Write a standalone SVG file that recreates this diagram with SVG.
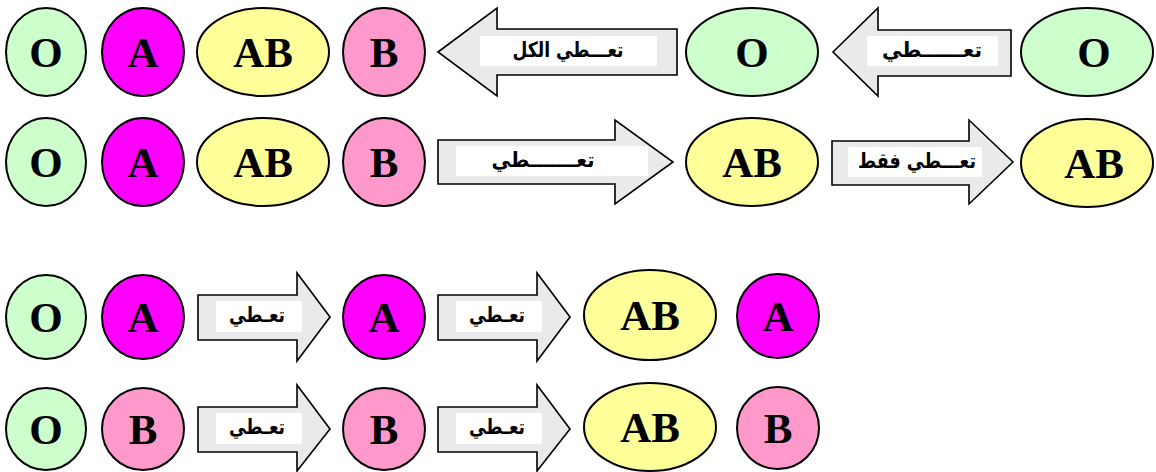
<svg xmlns="http://www.w3.org/2000/svg" width="1156" height="472" viewBox="0 0 1156 472">
<style>
.n{stroke:#000;stroke-width:2}
.O{fill:#CCFFCC}.A{fill:#FF00FF}.AB{fill:#FFFF99}.B{fill:#FF99CC}
.t{font-family:"Liberation Serif","Times New Roman",serif;font-weight:bold;font-size:43px;text-anchor:middle;fill:#000}
.arr{fill:#EAEAEA;stroke:#000;stroke-width:1.6;stroke-linejoin:miter}
.lb{fill:#fff}
.at{font-family:"DejaVu Sans","Noto Sans",sans-serif;font-weight:bold;font-size:21px;text-anchor:middle;fill:#000}
</style>
<rect width="1156" height="472" fill="#fff"/>
<g id="connectors">
<g id="arrow-r1a"><path class="arr" d="M438,52 L497,8 L497,29 L677,29 L677,75 L497,75 L497,96 Z"/><rect class="lb" x="480" y="36" width="177" height="30"/><text class="at" x="568" y="57" textLength="111" lengthAdjust="spacingAndGlyphs">تعـــطي الكل</text></g>
<g id="arrow-r1b"><path class="arr" d="M833,52 L878,8 L878,30 L1011,30 L1011,76 L878,76 L878,96 Z"/><rect class="lb" x="867" y="36" width="131" height="30"/><text class="at" x="932" y="57" textLength="100" lengthAdjust="spacingAndGlyphs">تعــــــطي</text></g>
<g id="arrow-r2a"><path class="arr" d="M438,140 L615,140 L615,120 L673,162 L615,204 L615,184 L438,184 Z"/><rect class="lb" x="456" y="146" width="192" height="30"/><text class="at" x="543" y="167" textLength="103" lengthAdjust="spacingAndGlyphs">تعـــــــطي</text></g>
<g id="arrow-r2b"><path class="arr" d="M832,141 L969,141 L969,120 L1013,162 L969,204 L969,185 L832,185 Z"/><rect class="lb" x="848" y="147" width="134" height="30"/><text class="at" x="917" y="168" textLength="118" lengthAdjust="spacingAndGlyphs">تعـــطي فقط</text></g>
<g id="arrow-r3a"><path class="arr" d="M198,295 L297,295 L297,273 L330,317 L297,361 L297,340 L198,340 Z"/><rect class="lb" x="216" y="301" width="86" height="31"/><text class="at" x="257" y="322" textLength="56" lengthAdjust="spacingAndGlyphs">تعـطي</text></g>
<g id="arrow-r3b"><path class="arr" d="M438,295 L537,295 L537,273 L570,317 L537,361 L537,340 L438,340 Z"/><rect class="lb" x="456" y="301" width="86" height="31"/><text class="at" x="497" y="322" textLength="56" lengthAdjust="spacingAndGlyphs">تعـطي</text></g>
<g id="arrow-r4a"><path class="arr" d="M198,407 L297,407 L297,385 L330,429 L297,471 L297,452 L198,452 Z"/><rect class="lb" x="216" y="413" width="86" height="31"/><text class="at" x="257" y="434" textLength="56" lengthAdjust="spacingAndGlyphs">تعـطي</text></g>
<g id="arrow-r4b"><path class="arr" d="M438,407 L537,407 L537,385 L570,429 L537,471 L537,452 L438,452 Z"/><rect class="lb" x="456" y="413" width="86" height="31"/><text class="at" x="497" y="434" textLength="56" lengthAdjust="spacingAndGlyphs">تعـطي</text></g>
</g>
<g id="r1-O"><ellipse class="n O" cx="46" cy="52" rx="40" ry="44"/><text class="t" x="46" y="67">O</text></g>
<g id="r1-A"><ellipse class="n A" cx="143" cy="52" rx="41" ry="44"/><text class="t" x="143" y="67">A</text></g>
<g id="r1-AB"><ellipse class="n AB" cx="263" cy="52" rx="66" ry="44"/><text class="t" x="263" y="67">AB</text></g>
<g id="r1-B"><ellipse class="n B" cx="384" cy="52" rx="41" ry="44"/><text class="t" x="384" y="67">B</text></g>
<g id="r1-O2"><ellipse class="n O" cx="752" cy="52" rx="66" ry="44"/><text class="t" x="752" y="67">O</text></g>
<g id="r1-O3"><ellipse class="n O" cx="1087" cy="52" rx="66" ry="44"/><text class="t" x="1094" y="67">O</text></g>
<g id="r2-O"><ellipse class="n O" cx="46" cy="162" rx="40" ry="44"/><text class="t" x="46" y="177">O</text></g>
<g id="r2-A"><ellipse class="n A" cx="143" cy="162" rx="41" ry="44"/><text class="t" x="143" y="177">A</text></g>
<g id="r2-AB"><ellipse class="n AB" cx="263" cy="162" rx="66" ry="44"/><text class="t" x="263" y="177">AB</text></g>
<g id="r2-B"><ellipse class="n B" cx="384" cy="162" rx="41" ry="44"/><text class="t" x="384" y="177">B</text></g>
<g id="r2-AB2"><ellipse class="n AB" cx="752" cy="162" rx="66" ry="44"/><text class="t" x="752" y="177">AB</text></g>
<g id="r2-AB3"><ellipse class="n AB" cx="1087" cy="163" rx="66" ry="44"/><text class="t" x="1094" y="178">AB</text></g>
<g id="r3-O"><ellipse class="n O" cx="46" cy="317" rx="40" ry="42"/><text class="t" x="46" y="332">O</text></g>
<g id="r3-A"><ellipse class="n A" cx="143" cy="317" rx="41" ry="42"/><text class="t" x="143" y="332">A</text></g>
<g id="r3-A2"><ellipse class="n A" cx="384" cy="317" rx="41" ry="42"/><text class="t" x="384" y="332">A</text></g>
<g id="r3-AB"><ellipse class="n AB" cx="650" cy="315" rx="66" ry="45"/><text class="t" x="650" y="330">AB</text></g>
<g id="r3-A3"><ellipse class="n A" cx="778" cy="316" rx="41" ry="42"/><text class="t" x="778" y="331">A</text></g>
<g id="r4-O"><ellipse class="n O" cx="46" cy="429" rx="40" ry="41"/><text class="t" x="46" y="444">O</text></g>
<g id="r4-B"><ellipse class="n B" cx="143" cy="429" rx="41" ry="41"/><text class="t" x="143" y="444">B</text></g>
<g id="r4-B2"><ellipse class="n B" cx="384" cy="429" rx="41" ry="41"/><text class="t" x="384" y="444">B</text></g>
<g id="r4-AB"><ellipse class="n AB" cx="650" cy="427" rx="66" ry="44"/><text class="t" x="650" y="442">AB</text></g>
<g id="r4-B3"><ellipse class="n B" cx="778" cy="428" rx="41" ry="41"/><text class="t" x="778" y="443">B</text></g>
</svg>
